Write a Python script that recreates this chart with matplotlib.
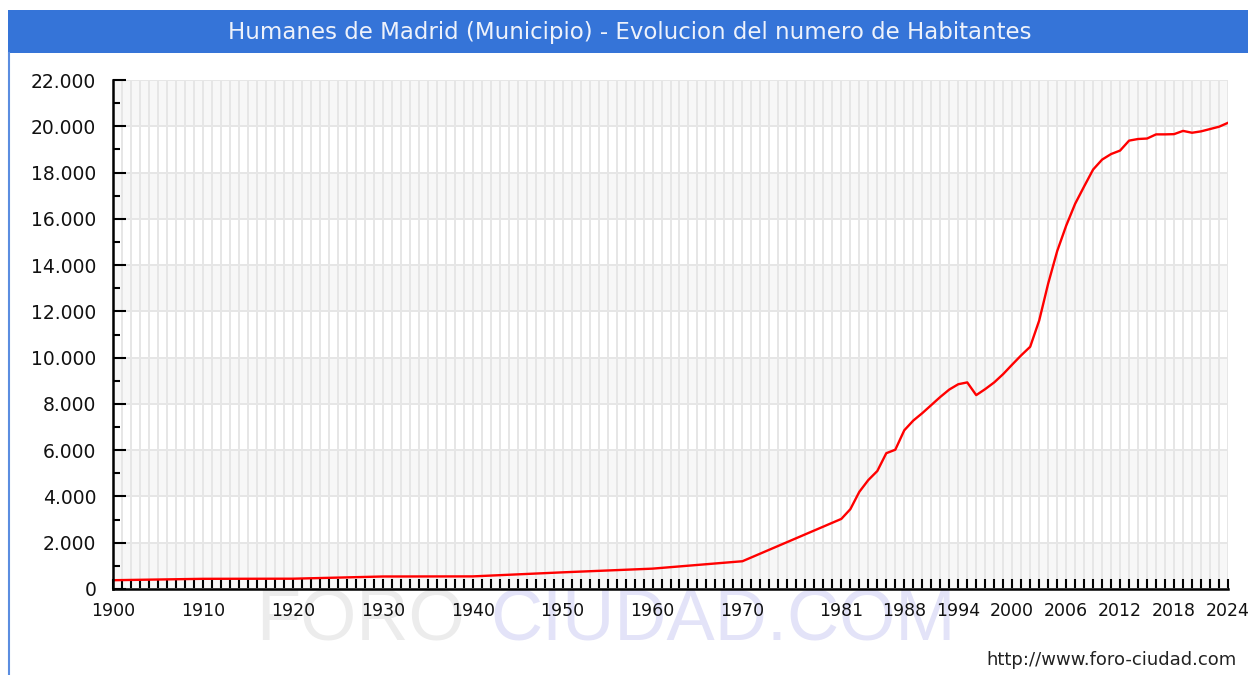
import matplotlib
matplotlib.use("Agg")
import matplotlib.pyplot as plt
from matplotlib.patches import Rectangle
from matplotlib.lines import Line2D
from matplotlib.ticker import FuncFormatter, MultipleLocator

# ---------------- data ----------------
title = "Humanes de Madrid (Municipio) - Evolucion del numero de Habitantes"

years = [1900, 1910, 1920, 1930, 1940, 1950, 1960, 1970,
         1981, 1982, 1983, 1984, 1985, 1986, 1987, 1988, 1989, 1990,
         1991, 1992, 1993, 1994, 1995, 1996, 1997, 1998, 1999, 2000,
         2001, 2002, 2003, 2004, 2005, 2006, 2007, 2008, 2009, 2010,
         2011, 2012, 2013, 2014, 2015, 2016, 2017, 2018, 2019, 2020,
         2021, 2022, 2023, 2024]
population = [380, 440, 445, 540, 545, 720, 880, 1200,
              3030, 3450, 4200, 4710, 5100, 5870, 6020, 6860, 7280, 7600,
              7950, 8300, 8620, 8850, 8930, 8380, 8640, 8930, 9290, 9700,
              10100, 10470, 11600, 13200, 14600, 15700, 16650, 17400, 18130, 18560,
              18800, 18950, 19380, 19450, 19470, 19650, 19650, 19660, 19800, 19720,
              19780, 19880, 19980, 20150]

tick_years = [1900, 1910, 1920, 1930, 1940, 1950, 1960, 1970,
              1981, 1988, 1994, 2000, 2006, 2012, 2018, 2024]

# ---------------- figure ----------------
W, H = 1248, 675
fig = plt.figure(figsize=(W / 100, H / 100), dpi=100)
fig.patch.set_facecolor("white")

# title bar
fig.patches.append(Rectangle((8 / W, 1 - 53 / H), 1 - 8 / W, 43 / H,
                             transform=fig.transFigure, facecolor="#3574d8",
                             edgecolor="none", zorder=0))
fig.text(630 / W, 1 - 32 / H, title, color="#eef2fb", fontsize=16.5,
         ha="center", va="center", family="DejaVu Sans")
# left frame line
fig.add_artist(Line2D([8.5 / W, 8.5 / W], [0, 1 - 53 / H], color="#5b8de0",
                      lw=1.5, transform=fig.transFigure))

# watermark (behind everything)
fig.text(256 / W, 1 - 640 / H, "FORO", color="#ececec", fontsize=52,
         family="Liberation Sans", ha="left", va="baseline", zorder=-5)
fig.text(490 / W, 1 - 640 / H, "CIUDAD.COM", color="#e3e3f8", fontsize=52,
         family="Liberation Sans", ha="left", va="baseline", zorder=-5)

# footer
fig.text(1237 / W, 1 - 660 / H, "http://www.foro-ciudad.com", color="#222222",
         fontsize=13, ha="right", va="center", family="DejaVu Sans")

# ---------------- axes ----------------
ax = fig.add_axes([113 / W, 1 - 589 / H, (1228 - 113) / W, (589 - 80) / H])
ax.set_zorder(2)
ax.patch.set_alpha(0)
ax.set_xlim(1900, 2024)
ax.set_ylim(0, 22000)

for k in range(0, 22000, 4000):
    ax.axhspan(k, k + 2000, color="#f7f7f7", zorder=0, lw=0)

ax.set_xticks(tick_years)
ax.set_xticks(range(1900, 2025), minor=True)
ax.yaxis.set_major_locator(MultipleLocator(2000))
ax.yaxis.set_minor_locator(MultipleLocator(1000))
ax.yaxis.set_major_formatter(FuncFormatter(lambda v, p: f"{int(v):,}".replace(",", ".")))

ax.grid(True, axis="x", which="both", color="#e6e6e6", lw=1.4, zorder=1)
ax.grid(True, axis="y", which="major", color="#e6e6e6", lw=1.4, zorder=1)
ax.set_axisbelow(True)

ax.plot(years, population, color="#ff0000", lw=1.7, zorder=3)

for s in ["top", "right"]:
    ax.spines[s].set_visible(False)
for s in ["left", "bottom"]:
    ax.spines[s].set_linewidth(1.8)
    ax.spines[s].set_color("black")
    ax.spines[s].set_zorder(4)

ax.tick_params(axis="x", which="both", direction="in", length=7, width=1.5,
               color="black", labelsize=12.5, pad=9)
ax.tick_params(axis="y", which="major", direction="in", length=9, width=1.5,
               color="black", labelsize=13.5, pad=12)
ax.tick_params(axis="y", which="minor", direction="in", length=5, width=1.5,
               color="black")
for lab in ax.get_xticklabels() + ax.get_yticklabels():
    lab.set_color("#111111")

fig.savefig("out.png", dpi=100)
